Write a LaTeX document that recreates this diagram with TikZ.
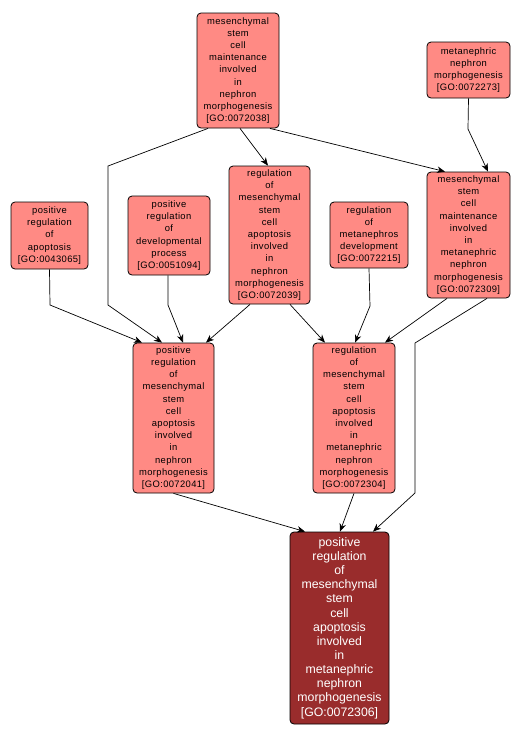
\documentclass[tikz,border=0pt]{standalone}
\usepackage{fontspec}
\setmainfont{Liberation Sans}
\newfontfamily\trackedfont[LetterSpace=4]{Liberation Sans}
\usetikzlibrary{arrows.meta,calc}
\definecolor{pale}{RGB}{255,138,132}
\definecolor{dark}{RGB}{153,44,44}
\tikzset{
  term/.style={draw=black, fill=pale, rounded corners=4pt, line width=0.8pt,
    align=center, inner sep=0pt, text=black,
    font=\trackedfont\fontsize{9.4}{12.2}\selectfont},
  target/.style={draw=black, fill=dark, rounded corners=4pt, line width=0.8pt,
    align=center, inner sep=0pt, text=white,
    font=\fontsize{12.3}{14.15}\selectfont},
  link/.style={-{Stealth[length=8pt,width=6.5pt,inset=2.5pt]}, line width=0.7pt, draw=black}
}
\begin{document}
\begin{tikzpicture}[x=1pt,y=-1pt]
\useasboundingbox[fill=white] (0,0) rectangle (519,740);

\node[term, minimum width=82pt, minimum height=115pt] (A) at (238,70.5)
  {mesenchymal\\stem\\cell\\maintenance\\involved\\in\\nephron\\morphogenesis\\{[}GO:0072038{]}};
\node[term, minimum width=83pt, minimum height=56pt] (B) at (468.5,70)
  {metanephric\\nephron\\morphogenesis\\{[}GO:0072273{]}};
\node[term, minimum width=77pt, minimum height=67pt] (C) at (49.5,235.5)
  {positive\\regulation\\of\\apoptosis\\{[}GO:0043065{]}};
\node[term, minimum width=82pt, minimum height=79pt] (D) at (169,235.5)
  {positive\\regulation\\of\\developmental\\process\\{[}GO:0051094{]}};
\node[term, minimum width=81pt, minimum height=138pt] (E) at (269.5,235)
  {regulation\\of\\mesenchymal\\stem\\cell\\apoptosis\\involved\\in\\nephron\\morphogenesis\\{[}GO:0072039{]}};
\node[term, minimum width=78pt, minimum height=66pt] (F) at (369,235)
  {regulation\\of\\metanephros\\development\\{[}GO:0072215{]}};
\node[term, minimum width=83pt, minimum height=126pt] (G) at (468.5,235)
  {mesenchymal\\stem\\cell\\maintenance\\involved\\in\\metanephric\\nephron\\morphogenesis\\{[}GO:0072309{]}};
\node[term, minimum width=81pt, minimum height=150pt] (H) at (173.5,418)
  {positive\\regulation\\of\\mesenchymal\\stem\\cell\\apoptosis\\involved\\in\\nephron\\morphogenesis\\{[}GO:0072041{]}};
\node[term, minimum width=82pt, minimum height=150pt] (I) at (354,418)
  {regulation\\of\\mesenchymal\\stem\\cell\\apoptosis\\involved\\in\\metanephric\\nephron\\morphogenesis\\{[}GO:0072304{]}};
\node[target, minimum width=99pt, minimum height=192pt] (J) at (339.5,628)
  {positive\\regulation\\of\\mesenchymal\\stem\\cell\\apoptosis\\involved\\in\\metanephric\\nephron\\morphogenesis\\{[}GO:0072306{]}};

% bend points
\coordinate (ah1) at (108,166);
\coordinate (ah2) at (108,305);
\coordinate (ch1) at (50,305);
\coordinate (dh1) at (168,305);
\coordinate (bg1) at (468,129);
\coordinate (fi1) at (370,306);
\coordinate (gj1) at (415,343);
\coordinate (gj2) at (415,493);

% edges
\draw[link] ([xshift=-30pt]A.south) -- (ah1) -- (ah2) -- ([xshift=-11.5pt]H.north);
\draw[link] ([xshift=2pt]A.south) -- ([xshift=-1.5pt]E.north);
\draw[link] ([xshift=32pt]A.south) -- ([xshift=-23.5pt]G.north);
\draw[link] (B.south) -- (bg1) -- ([xshift=19.5pt]G.north);
\draw[link] (C.south) -- (ch1) -- ([xshift=-31.5pt]H.north);
\draw[link] ([xshift=-1pt]D.south) -- (dh1) -- ([xshift=9.5pt]H.north);
\draw[link] ([xshift=-19.5pt]E.south) -- ([xshift=32.5pt]H.north);
\draw[link] ([xshift=20.5pt]E.south) -- ([xshift=-29pt]I.north);
\draw[link] (F.south) -- (fi1) -- ([xshift=1pt]I.north);
\draw[link] ([xshift=-21.5pt]G.south) -- ([xshift=31pt]I.north);
\draw[link] ([xshift=18.5pt]G.south) -- (gj1) -- (gj2) -- ([xshift=33.5pt]J.north);
\draw[link] (H.south) -- ([xshift=-34.5pt]J.north);
\draw[link] (I.south) -- ([xshift=0.5pt]J.north);
\end{tikzpicture}
\end{document}
